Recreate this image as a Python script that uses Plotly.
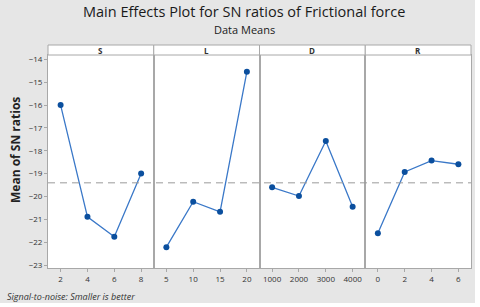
import plotly.graph_objects as go
from plotly.subplots import make_subplots

factors = ["S", "L", "D", "R"]
levels_S = ["2", "4", "6", "8"]
levels_L = ["5", "10", "15", "20"]
levels_D = ["1000", "2000", "3000", "4000"]
levels_R = ["0", "2", "4", "6"]
sn_S = [-16.0, -20.89, -21.76, -18.99]
sn_L = [-22.22, -20.23, -20.67, -14.54]
sn_D = [-19.60, -19.98, -17.57, -20.45]
sn_R = [-21.61, -18.93, -18.43, -18.59]
y_ticks = [-14, -15, -16, -17, -18, -19, -20, -21, -22, -23]

levels = [levels_S, levels_L, levels_D, levels_R]
values = [sn_S, sn_L, sn_D, sn_R]
all_vals = sn_S + sn_L + sn_D + sn_R
grand_mean = sum(all_vals) / len(all_vals)

W, H = 480, 307
ml, mr, mt, mb = 48, 9, 55, 39
plot_w = W - ml - mr
plot_h = H - mt - mb
strip_h = 10 / plot_h
title_x = (244 - ml) / plot_w

fig = make_subplots(rows=1, cols=4, shared_yaxes=True, horizontal_spacing=0)

BORDER = "#a8a8a8"
LINE = "#3a78c8"
MARK = "#0b4f9e"
FONT = "Open Sans"

for i, (lv, vals) in enumerate(zip(levels, values)):
    fig.add_trace(go.Scatter(
        x=list(range(len(lv))), y=vals, mode="lines+markers",
        line=dict(color=LINE, width=1.3),
        marker=dict(color=MARK, size=6),
        showlegend=False, hoverinfo="skip"), row=1, col=i + 1)
    fig.update_xaxes(
        range=[-0.47, 3.47], tickvals=list(range(len(lv))), ticktext=lv,
        ticks="outside", ticklen=3, tickcolor=BORDER, showline=True,
        mirror=True, linecolor=BORDER, linewidth=1, showgrid=False,
        zeroline=False, tickfont=dict(size=8, color="#333333", family=FONT),
        fixedrange=True, row=1, col=i + 1)
    xr = "x domain" if i == 0 else f"x{i + 1} domain"
    fig.add_shape(type="rect", xref=xr, yref="paper", x0=0, x1=1,
                  y0=1, y1=1 + strip_h, fillcolor="white",
                  line=dict(color=BORDER, width=1))
    fig.add_annotation(text=f"<b>{factors[i]}</b>", xref=xr, yref="paper",
                       x=0.5, y=1 + strip_h / 2, showarrow=False,
                       font=dict(size=8, color="#333333", family=FONT),
                       yanchor="middle")

fig.update_yaxes(range=[-23.13, -13.81], tickvals=y_ticks, showgrid=False,
                 zeroline=False, showline=True, mirror=True, linecolor=BORDER,
                 fixedrange=True)
fig.update_yaxes(ticks="outside", ticklen=3, tickcolor=BORDER,
                 tickfont=dict(size=8, color="#333333", family=FONT),
                 row=1, col=1)

fig.add_annotation(text="<b>Mean of SN ratios</b>", textangle=-90,
                   xref="paper", yref="paper", x=-(ml - 15) / plot_w,
                   y=(H - mb - 150) / plot_h, showarrow=False,
                   xanchor="center", yanchor="middle",
                   font=dict(size=12, color="#222222", family=FONT))

fig.add_shape(type="line", xref="paper", yref="y", x0=0, x1=1,
              y0=grand_mean, y1=grand_mean,
              line=dict(color="#9a9a9a", width=1, dash="7px,5px"))

# white outer edge at right/bottom
fig.add_shape(type="rect", xref="paper", yref="paper",
              x0=1 + 4 / plot_w, x1=1 + (mr + 2) / plot_w,
              y0=-(mb + 2) / plot_h, y1=1 + (mt + 2) / plot_h,
              fillcolor="white", line=dict(width=0), layer="above")
fig.add_shape(type="rect", xref="paper", yref="paper",
              x0=-(ml + 2) / plot_w, x1=1 + (mr + 2) / plot_w,
              y0=-(mb + 2) / plot_h, y1=-(mb - 4) / plot_h,
              fillcolor="white", line=dict(width=0), layer="above")

fig.add_annotation(text="Main Effects Plot for SN ratios of Frictional force",
                   xref="paper", yref="paper", x=title_x,
                   y=1 + (mt - 12) / plot_h, showarrow=False, yanchor="middle",
                   font=dict(size=14.5, color="#1a1a1a", family=FONT))
fig.add_annotation(text="Data Means", xref="paper", yref="paper", x=title_x,
                   y=1 + (mt - 29) / plot_h, showarrow=False, yanchor="middle",
                   font=dict(size=11, color="#1a1a1a", family=FONT))
fig.add_annotation(text="<i>Signal-to-noise: Smaller is better</i>",
                   xref="paper", yref="paper", x=-(ml - 5) / plot_w,
                   xanchor="left", y=-(mb - 11) / plot_h, yanchor="middle",
                   showarrow=False,
                   font=dict(size=9, color="#333333", family=FONT))

fig.update_layout(width=W, height=H, margin=dict(l=ml, r=mr, t=mt, b=mb),
                  paper_bgcolor="#e6e6e6", plot_bgcolor="white")

fig.write_html("out.html", config={"displayModeBar": False},
               post_script="document.body.style.margin='0';")
